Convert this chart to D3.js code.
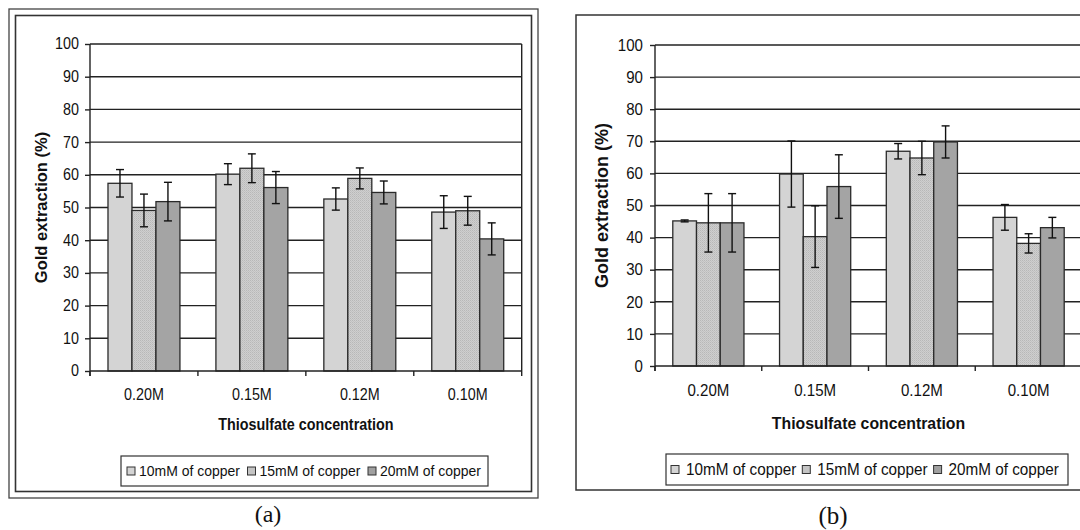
<!DOCTYPE html>
<html><head><meta charset="utf-8">
<script src="https://cdn.jsdelivr.net/npm/d3@7/dist/d3.min.js"></script>
<style>
html,body{margin:0;padding:0;background:#fff;}
svg{display:block;font-family:Arial,"Liberation Sans",sans-serif;}
</style></head>
<body>
<svg id="chart" width="1080" height="530"></svg>
<script>
// ---------- data ----------
const categories = ["0.20M", "0.15M", "0.12M", "0.10M"];
const seriesNames = ["10mM of copper", "15mM of copper", "20mM of copper"];
const yTicks = [0, 10, 20, 30, 40, 50, 60, 70, 80, 90, 100];
const xTitle = "Thiosulfate concentration";
const yTitle = "Gold extraction (%)";
const panelLabels = ["(a)", "(b)"];

// panel (a)
const aCu10 = [57.4, 60.2, 52.6, 48.6];
const aCu15 = [49.1, 62.0, 58.9, 49.0];
const aCu20 = [51.8, 56.1, 54.6, 40.4];
const aErr10 = [4.2, 3.2, 3.4, 5.0];
const aErr15 = [5.0, 4.4, 3.2, 4.4];
const aErr20 = [5.9, 4.9, 3.5, 4.9];
// panel (b)
const bCu10 = [45.2, 59.8, 66.9, 46.3];
const bCu15 = [44.6, 40.3, 64.8, 38.2];
const bCu20 = [44.6, 55.9, 69.8, 43.1];
const bErr10 = [0.3, 10.3, 2.4, 4.0];
const bErr15 = [9.1, 9.6, 5.2, 3.0];
const bErr20 = [9.1, 9.9, 5.0, 3.2];

// ---------- styling ----------
const fills = ["#d4d4d4", "url(#dots)", "#a4a4a4"];
const swatchFills = ["#d4d4d4", "#c4c4c4", "#a0a0a0"];
const ink = "#222";
const SX = 0.92; // horizontal squeeze of the text, as in the source image

const svg = d3.select("#chart");
const defs = svg.append("defs");
const pat = defs.append("pattern").attr("id", "dots").attr("patternUnits", "userSpaceOnUse")
  .attr("width", 2).attr("height", 2);
pat.append("rect").attr("width", 2).attr("height", 2).attr("fill", "#cfcfcf");
pat.append("rect").attr("width", 1).attr("height", 1).attr("fill", "#b8b8b8");
pat.append("rect").attr("x", 1).attr("y", 1).attr("width", 1).attr("height", 1).attr("fill", "#c2c2c2");

function squeezedText(parent, X, Y, size, anchor, str, bold) {
  return parent.append("text")
    .attr("transform", `translate(${X},${Y}) scale(${SX},1)`)
    .attr("text-anchor", anchor).attr("font-size", size)
    .attr("font-weight", bold ? "bold" : "normal")
    .attr("fill", "#111").text(str);
}

function drawPanel(cfg, vals, errs) {
  const g = svg.append("g");
  // frame
  if (cfg.double) {
    g.append("rect").attr("x", cfg.frame[0]).attr("y", cfg.frame[1])
      .attr("width", cfg.frame[2]).attr("height", cfg.frame[3])
      .attr("fill", "none").attr("stroke", "#444").attr("stroke-width", 1.3);
    g.append("rect").attr("x", cfg.frame[0] + 6.5).attr("y", cfg.frame[1] + 6.5)
      .attr("width", cfg.frame[2] - 13).attr("height", cfg.frame[3] - 13)
      .attr("fill", "none").attr("stroke", "#333").attr("stroke-width", 1.6);
  } else {
    g.append("rect").attr("x", cfg.frame[0]).attr("y", cfg.frame[1])
      .attr("width", cfg.frame[2]).attr("height", cfg.frame[3])
      .attr("fill", "none").attr("stroke", "#333").attr("stroke-width", 1.5);
  }

  const x = d3.scaleBand().domain(categories).range([cfg.x0, cfg.x1]).padding(0);
  const xs = d3.scaleBand().domain(seriesNames).range([0, x.bandwidth()])
    .paddingInner(0).paddingOuter(0.75);
  const y = d3.scaleLinear().domain([0, 100]).range([cfg.y0, cfg.y1]);

  // gridlines
  g.append("g").selectAll("line").data(yTicks.filter(d => d > 0)).join("line")
    .attr("x1", cfg.x0).attr("x2", cfg.x1)
    .attr("y1", d => y(d)).attr("y2", d => y(d))
    .attr("stroke", ink).attr("stroke-width", 1.4);
  // right border of plot area
  g.append("line").attr("x1", cfg.x1).attr("x2", cfg.x1).attr("y1", y(100)).attr("y2", y(0))
    .attr("stroke", ink).attr("stroke-width", 1.4);

  // bars
  const rows = [];
  categories.forEach((c, i) => seriesNames.forEach((s, j) => {
    rows.push({c, s, j, v: vals[j][i], e: errs[j][i]});
  }));
  g.append("g").selectAll("rect").data(rows).join("rect")
    .attr("x", d => x(d.c) + xs(d.s))
    .attr("y", d => y(d.v))
    .attr("width", xs.bandwidth())
    .attr("height", d => y(0) - y(d.v))
    .attr("fill", d => fills[d.j])
    .attr("stroke", "#2a2a2a").attr("stroke-width", 1.3);

  // error bars
  const eg = g.append("g").attr("stroke", "#111").attr("stroke-width", 1.4);
  rows.forEach(d => {
    const cx = x(d.c) + xs(d.s) + xs.bandwidth() / 2;
    eg.append("line").attr("x1", cx).attr("x2", cx).attr("y1", y(d.v + d.e)).attr("y2", y(d.v - d.e));
    eg.append("line").attr("x1", cx - 4).attr("x2", cx + 4).attr("y1", y(d.v + d.e)).attr("y2", y(d.v + d.e));
    eg.append("line").attr("x1", cx - 4).attr("x2", cx + 4).attr("y1", y(d.v - d.e)).attr("y2", y(d.v - d.e));
  });

  // y axis
  const ya = g.append("g").attr("transform", `translate(${cfg.x0},0)`)
    .call(d3.axisLeft(y).tickValues(yTicks).tickSize(5).tickPadding(cfg.yPad).tickFormat(d3.format("d")));
  ya.select(".domain").attr("stroke", ink).attr("stroke-width", 1.4).attr("d", `M0,${cfg.y1}V${cfg.y0 + 5}`);
  ya.selectAll(".tick line").attr("stroke", ink).attr("stroke-width", 1.4);
  ya.selectAll(".tick text").each(function () {
    const t = d3.select(this);
    const xx = +t.attr("x");
    t.attr("x", xx / SX).attr("transform", `scale(${SX},1)`);
  }).attr("font-size", cfg.tickFont).attr("fill", "#111")
    .attr("font-family", "Arial, 'Liberation Sans', sans-serif");

  // x axis
  const xa = g.append("g").attr("transform", `translate(0,${cfg.y0})`)
    .call(d3.axisBottom(x).tickSize(0).tickPadding(cfg.xPad));
  xa.select(".domain").attr("stroke", ink).attr("stroke-width", 1.4).attr("d", `M${cfg.x0},0H${cfg.x1}`);
  xa.selectAll(".tick text").attr("transform", `scale(${SX},1)`)
    .attr("font-size", cfg.tickFont).attr("fill", "#111")
    .attr("font-family", "Arial, 'Liberation Sans', sans-serif");
  const bounds = categories.map(c => x(c)).concat([x.range()[1]]);
  xa.append("g").selectAll("line").data(bounds).join("line")
    .attr("x1", d => d).attr("x2", d => d).attr("y1", 0).attr("y2", 5)
    .attr("stroke", ink).attr("stroke-width", 1.4);

  // titles
  squeezedText(g, (cfg.x0 + cfg.x1) / 2, cfg.xTitleY, cfg.titleFont, "middle", xTitle, true);
  g.append("text").attr("transform", `translate(${cfg.yTitleX},${(cfg.y0 + cfg.y1) / 2}) rotate(-90)`)
    .attr("text-anchor", "middle").attr("font-weight", "bold").attr("font-size", cfg.yTitleFont)
    .attr("fill", "#111").text(yTitle);

  // legend
  const L = cfg.legend;
  g.append("rect").attr("x", L.x).attr("y", L.y).attr("width", L.w).attr("height", L.h)
    .attr("fill", "#fff").attr("stroke", "#333").attr("stroke-width", 1.2);
  seriesNames.forEach((s, j) => {
    const sx = L.x + L.pad + j * L.step;
    g.append("rect").attr("x", sx).attr("y", L.y + L.h / 2 - 4).attr("width", 8).attr("height", 8)
      .attr("fill", swatchFills[j]).attr("stroke", "#333").attr("stroke-width", 1);
    squeezedText(g, sx + L.textGap, L.y + L.h / 2 + L.font * 0.36, L.font, "start", s, false);
  });

  // panel label
  svg.append("text").attr("x", cfg.labelX).attr("y", cfg.labelY).attr("text-anchor", "middle")
    .attr("font-family", "'Liberation Serif','Times New Roman',serif").attr("font-size", cfg.labelFont)
    .attr("fill", "#111").text(cfg.label);
}

drawPanel({
  double: true, frame: [9, 9, 529, 489],
  x0: 90, x1: 521.7, y0: 371, y1: 44,
  tickFont: 15.6, yPad: 6, xPad: 18, titleFont: 15.6, yTitleFont: 16.5, xTitleY: 430, yTitleX: 47,
  legend: {x: 121, y: 456, w: 367, h: 30, pad: 6, step: 120.5, textGap: 12, font: 15.2},
  label: panelLabels[0], labelX: 268, labelY: 522, labelFont: 24
}, [aCu10, aCu15, aCu20], [aErr10, aErr15, aErr20]);

drawPanel({
  double: false, frame: [576, 15, 530, 475],
  x0: 655, x1: 1082, y0: 366, y1: 45,
  tickFont: 16.4, yPad: 7, xPad: 18, titleFont: 17.2, yTitleFont: 18, xTitleY: 429, yTitleX: 608,
  legend: {x: 666, y: 454, w: 402, h: 31, pad: 5, step: 131.3, textGap: 15, font: 16.6},
  label: panelLabels[1], labelX: 833, labelY: 524, labelFont: 25
}, [bCu10, bCu15, bCu20], [bErr10, bErr15, bErr20]);
</script>
</body></html>
